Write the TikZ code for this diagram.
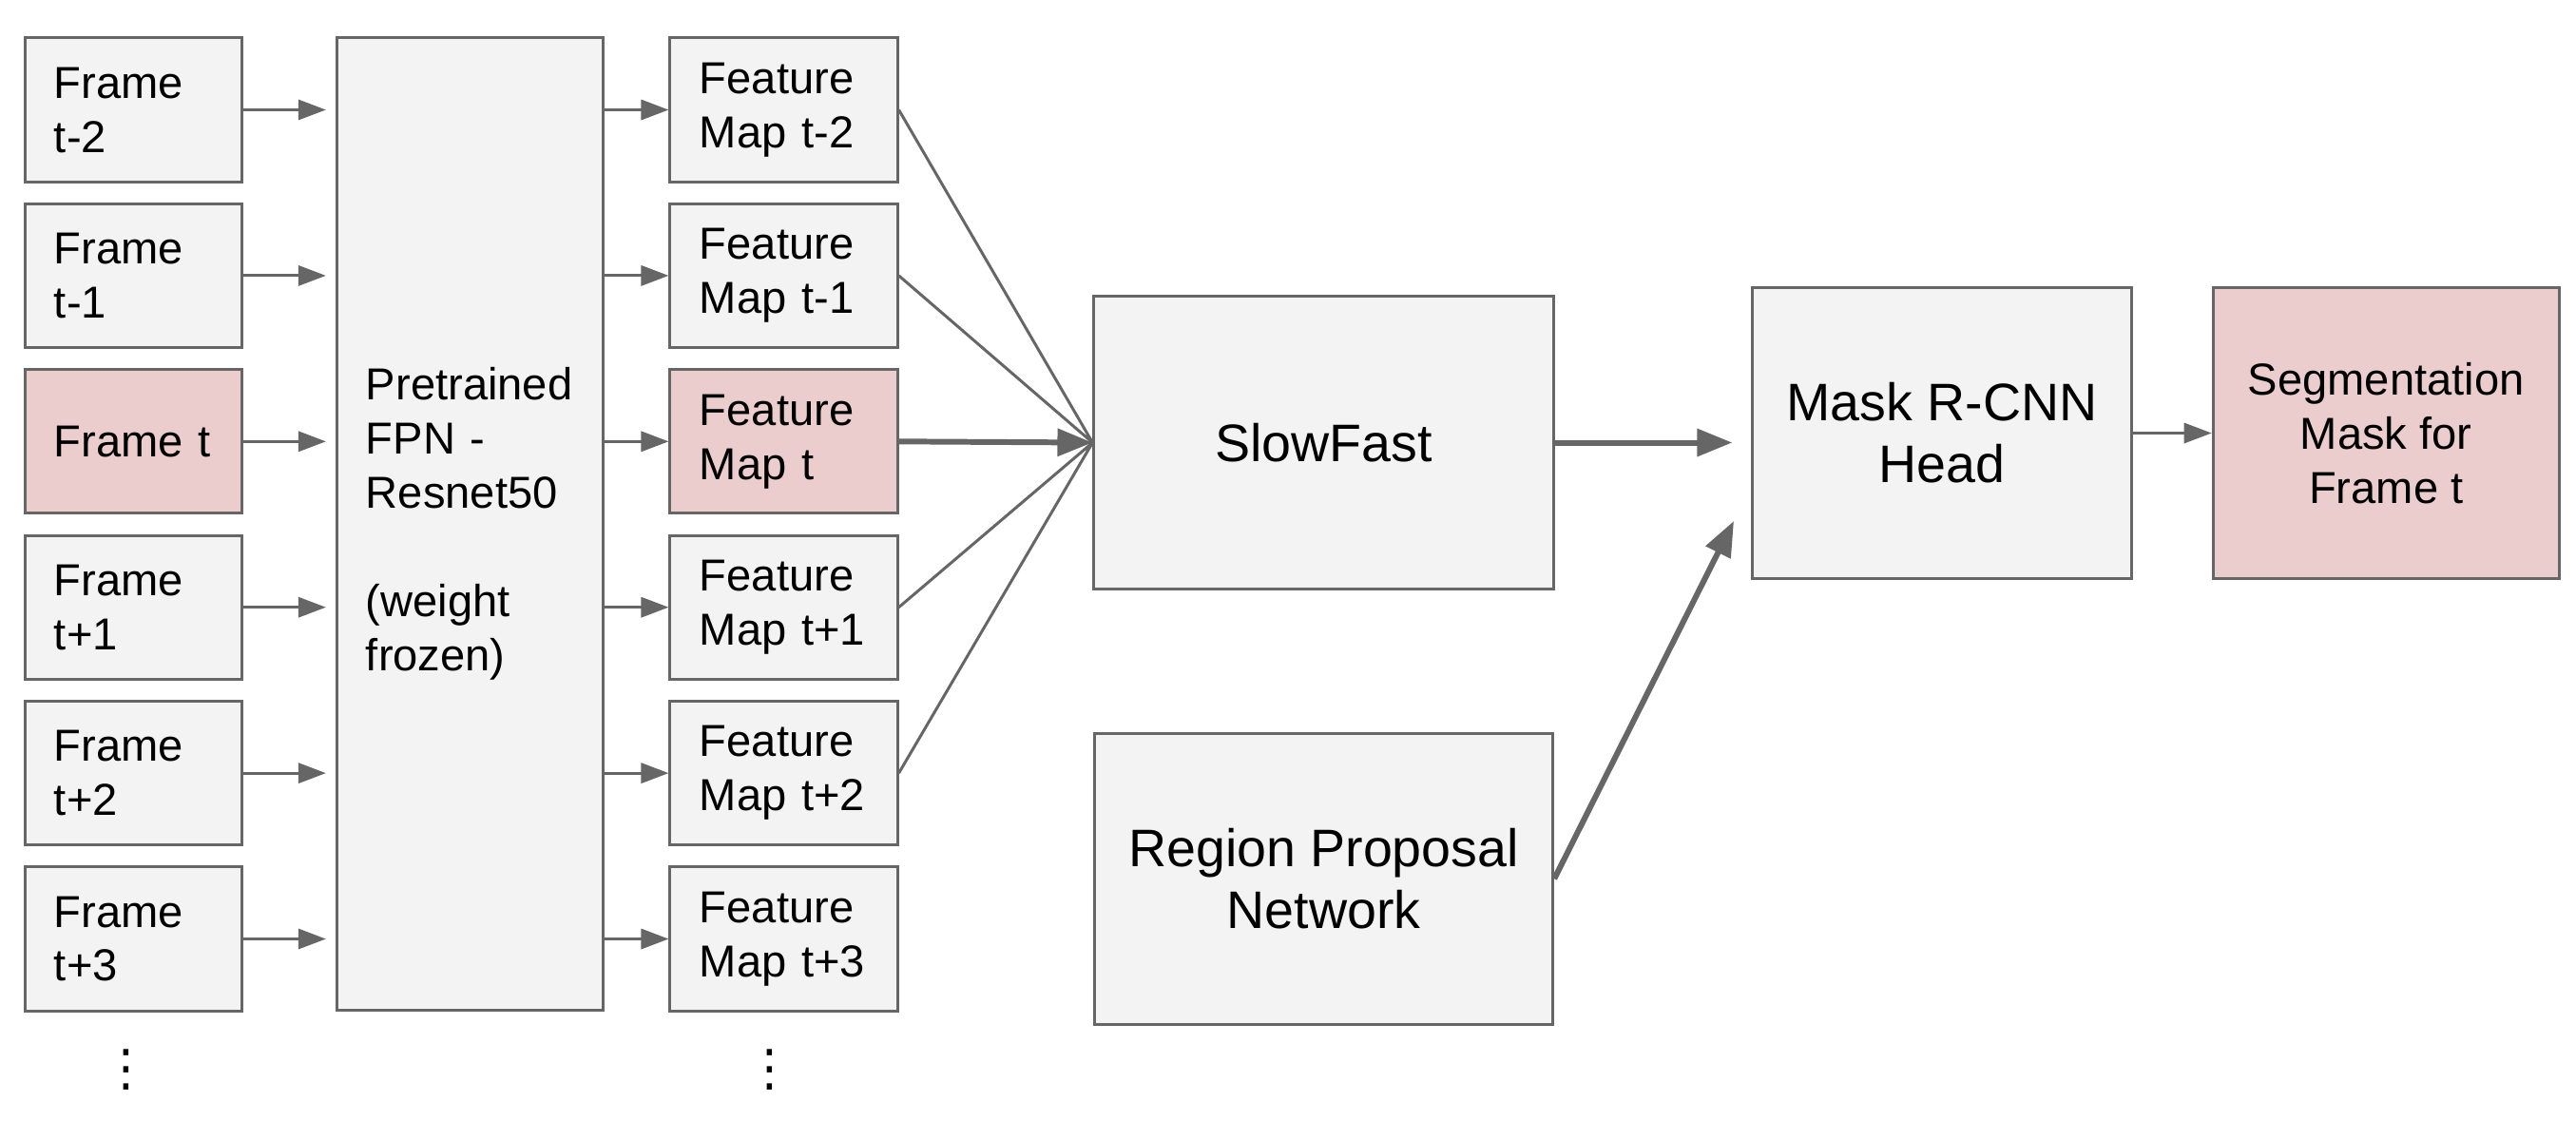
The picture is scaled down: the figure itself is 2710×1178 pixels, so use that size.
\documentclass[tikz,border=0pt]{standalone}
\usepackage{fontspec}
\setmainfont{Liberation Sans}
\newfontfamily\dotsfont{DejaVu Sans}
\usepackage{tikz}
\usetikzlibrary{arrows.meta,positioning}

\definecolor{linegray}{HTML}{666666}
\definecolor{boxgray}{HTML}{F3F3F3}
\definecolor{boxpink}{HTML}{ECCDCD}

\begin{document}
\begin{tikzpicture}[x=0.01cm,y=-0.01cm,node distance=1.743cm,
                    line width=0.85pt,draw=linegray,
                    thin arrow/.style={-{Triangle[length=8.25pt,width=6pt]},linegray,line width=0.85pt},
                    thick arrow/.style={-{Triangle[length=10.5pt,width=8pt]},linegray,line width=1.7pt},
                    smallfont/.style={font=\fontsize{13.4}{16.2}\selectfont},
                    bigfont/.style={font=\fontsize{15.8}{18.5}\selectfont},
                    framebox/.style={draw=linegray,fill=boxgray,smallfont,align=left,
                                     text width=1.67cm,inner xsep=0.3cm,minimum height=1.51cm},
                    mapbox/.style={framebox,text width=1.77cm,inner xsep=0.31cm},
                    bigbox/.style={draw=linegray,fill=boxgray,bigfont,align=center},
                    pinkfill/.style={fill=boxpink},
                    dotsnode/.style={font=\dotsfont\fontsize{15}{15}\selectfont,inner sep=0pt}]
   \useasboundingbox (0,0) rectangle (2710,1178);
   % input frames
   \node[framebox] (frame1) at (140.5,115.5) {Frame\\t-2};
   \node[framebox] (frame2) [below of=frame1] {Frame\\t-1};
   \node[framebox,pinkfill] (frame3) [below of=frame2] {Frame t};
   \node[framebox] (frame4) [below of=frame3] {Frame\\t+1};
   \node[framebox] (frame5) [below of=frame4] {Frame\\t+2};
   \node[framebox] (frame6) [below of=frame5] {Frame\\t+3};
   \node[dotsnode] (dotsA) at (133,1125) {⋮};
   % backbone
   \node[framebox,text width=2.19cm,minimum height=10.22cm] (fpn) at (494.5,551)
        {Pretrained\\FPN -\\Resnet50\\[16.2pt](weight\\frozen)};
   % feature maps
   \node[mapbox] (map1) at (824.5,115.5) {Feature\\Map t-2};
   \node[mapbox] (map2) [below of=map1] {Feature\\Map t-1};
   \node[mapbox,pinkfill] (map3) [below of=map2] {Feature\\Map t};
   \node[mapbox] (map4) [below of=map3] {Feature\\Map t+1};
   \node[mapbox] (map5) [below of=map4] {Feature\\Map t+2};
   \node[mapbox] (map6) [below of=map5] {Feature\\Map t+3};
   \node[dotsnode] (dotsB) at (810,1125) {⋮};
   % heads
   \node[bigbox,minimum width=4.83cm,minimum height=3.07cm] (slowfast) at (1392.5,465.5) {SlowFast};
   \node[bigbox,minimum width=4.82cm,minimum height=3.06cm] (rpn) [below=1.49cm of slowfast]
        {Region Proposal\\Network};
   \node[bigbox,minimum width=3.98cm,minimum height=3.05cm] (mask) at (2043,455.5) {Mask R-CNN\\Head};
   \node[bigbox,pinkfill,smallfont,minimum width=3.64cm,minimum height=3.05cm] (seg) [right=0.83cm of mask]
        {Segmentation\\Mask for\\Frame t};
   \coordinate (rpnin) at (1824,548);

   \foreach \i in {1,...,6}{
     \draw[thin arrow,shorten >=3pt] (frame\i.east) -- (frame\i.east -| fpn.west);
     \draw[thin arrow] (map\i.west -| fpn.east) -- (map\i.west);
   }
   \draw[linegray] (map1.east) -- (slowfast.west)
                   (map2.east) -- (slowfast.west)
                   (map4.east) -- (slowfast.west)
                   (map5.east) -- (slowfast.west);
   \draw[thick arrow] (map3.east) -- (slowfast.west);
   \draw[thick arrow,shorten >=5.7pt] (slowfast.east) -- (slowfast.east -| mask.west);
   \draw[thick arrow] (rpn.east) -- (rpnin);
   \draw[thin arrow] (mask.east) -- (seg.west);

\end{tikzpicture}
\end{document}
